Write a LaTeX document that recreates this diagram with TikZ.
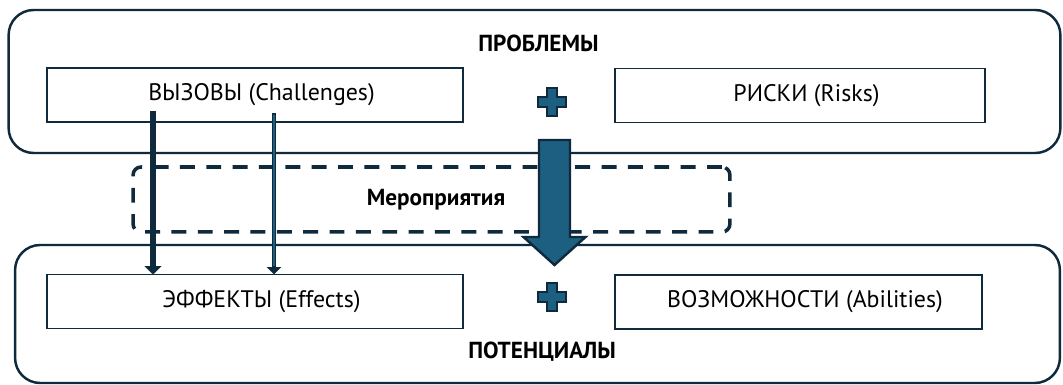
\documentclass[tikz,border=0pt]{standalone}
\usepackage{fontspec}
\setmainfont{PT Sans}
\usetikzlibrary{arrows.meta, positioning, calc}
\definecolor{navydark}{HTML}{0F2A3D}
\definecolor{steelblue}{HTML}{1D5F80}

\begin{document}
\begin{tikzpicture}[x=0.02cm, y=-0.02cm,
  groupbox/.style={draw=navydark, line width=1.4pt, rounded corners=0.5cm, inner sep=0pt, outer sep=0pt},
  itembox/.style={draw=navydark, line width=1.1pt, inner sep=0pt, outer sep=0pt, minimum height=1.08cm,
    font=\fontsize{13.6}{15}\selectfont, execute at begin node=\hspace*{0.26cm}},
  grouplabel/.style={font=\fontsize{13.2}{15}\selectfont\bfseries},
  actionbox/.style={draw=navydark, line width=2pt, dash pattern=on 8.5pt off 6.5pt, rounded corners=0.16cm, inner sep=0pt, outer sep=0pt, font=\fontsize{13.2}{15}\selectfont\bfseries},
  plusmark/.style={draw=navydark, fill=steelblue, line width=1.1pt},
  bigarrow/.style={draw=navydark, fill=steelblue, line width=1.4pt},
  thickflow/.style={navydark, line width=2.9pt, -{Triangle[width=9.5pt, length=4.8pt]}},
  thinflow/.style={navydark, line width=2.3pt, -{Triangle[width=8pt, length=4.2pt]}}
]
  \useasboundingbox (0,0) rectangle (1063,385);

  % Outer groups
  \node[groupbox, minimum width=21.04cm, minimum height=2.86cm] (problems) at (534.5,81.5) {};
  \node[groupbox, minimum width=20.9cm, minimum height=2.76cm] (potentials) at (537.5,314) {};
  \node[grouplabel] (problemslabel) at (538.5,43) {ПРОБЛЕМЫ};
  \node[grouplabel] (potentialslabel) at (542,352) {ПОТЕНЦИАЛЫ};

  % Measures
  \node[actionbox, minimum width=11.94cm, minimum height=1.3cm] (measures) at (431.5,199.5) {\hspace*{0.18cm}Мероприятия};

  % Items
  \node[itembox, minimum width=8.32cm] (chal) at (255,95) {ВЫЗОВЫ (Challenges)};
  \node[itembox, minimum width=7.4cm] (risks) at (800,95.5) {РИСКИ (Risks)};
  \node[itembox, minimum width=8.32cm] (eff) at (255,301.5) {ЭФФЕКТЫ (Effects)};
  \node[itembox, minimum width=7.34cm] (abil) at (798.5,302) {ВОЗМОЖНОСТИ (Abilities)};

  % Plus signs
  \coordinate (plusup) at (552,102);
  \coordinate (plusdown) at (552,297);
  \foreach \pos in {plusup, plusdown}
    \draw[plusmark] ($(\pos)+(-5,-14)$) -- ++(10,0) -- ++(0,9) -- ++(9,0) -- ++(0,10) -- ++(-9,0) -- ++(0,9)
      -- ++(-10,0) -- ++(0,-9) -- ++(-9,0) -- ++(0,-10) -- ++(9,0) -- cycle;

  % Flows from challenges to effects
  \coordinate (chA) at (153,111);
  \coordinate (chB) at (274,113);
  \draw[thickflow] (chA) -- (chA |- eff.north);
  \draw[thinflow] (chB) -- (chB |- eff.north);
  \draw[steelblue, line width=1pt, shorten <=1pt, shorten >=5pt] (chB) -- (chB |- eff.north);

  % Main flow
  \coordinate (bigtop) at (554.5,140);
  \coordinate (bigtip) at (554.5,265);
  \draw[bigarrow] ($(bigtop)+(-15.5,0)$) -- ++(31,0) -- ++(0,97) -- ++(15.5,0) -- (bigtip)
    -- ($(bigtip)+(-31,-28)$) -- ++(15.5,0) -- cycle;
\end{tikzpicture}
\end{document}
